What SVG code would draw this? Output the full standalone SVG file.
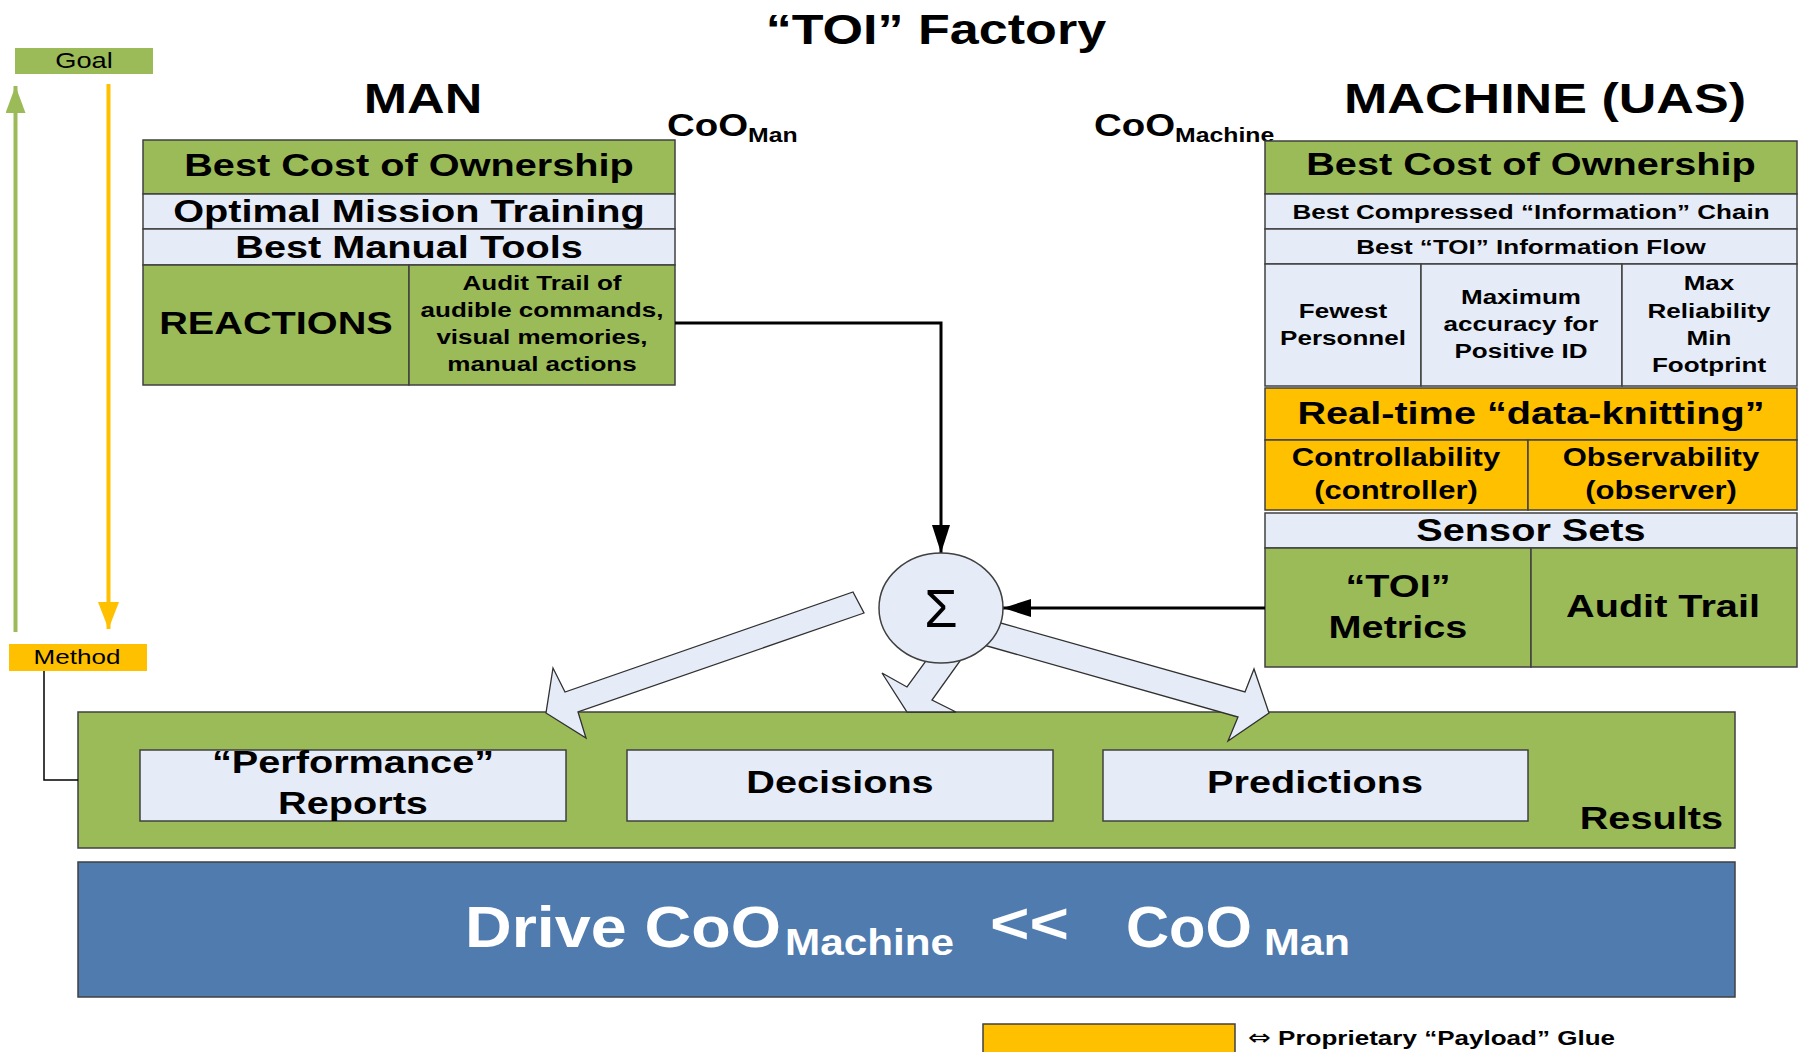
<svg xmlns="http://www.w3.org/2000/svg" width="1802" height="1052" viewBox="0 0 1802 1052">
  <defs>
    <style>
      .g { fill:#9BBB59; stroke:#404040; stroke-width:1.5; }
      .l { fill:#E6ECF7; stroke:#404040; stroke-width:1.5; }
      .o { fill:#FFC000; stroke:#404040; stroke-width:1.5; }
      .b { fill:#4F7BAF; stroke:#404040; stroke-width:1.5; }
      .blk { fill:#E6ECF7; stroke:#303030; stroke-width:1.3; }
      .wire { fill:none; stroke:#000; stroke-width:3; }
      text { font-family:"Liberation Sans", Arial, sans-serif; fill:#000; }
      .t { font-weight:bold; text-anchor:middle; transform-box:fill-box; transform-origin:center; transform:scaleX(1.24); }
      .tl { font-weight:bold; text-anchor:start; transform-box:fill-box; transform-origin:0% 50%; transform:scaleX(1.24); }
      .tr { font-weight:bold; text-anchor:end; transform-box:fill-box; transform-origin:100% 50%; transform:scaleX(1.24); }
      .n { text-anchor:middle; transform-box:fill-box; transform-origin:center; transform:scaleX(1.24); }
      .w { fill:#fff; font-weight:bold; }
    </style>
    <marker id="ah" markerUnits="userSpaceOnUse" markerWidth="28" markerHeight="18" refX="28" refY="9" orient="auto">
      <path d="M0,0 L28,9 L0,18 z" fill="#000"/>
    </marker>
    <marker id="ahGreen" markerUnits="userSpaceOnUse" markerWidth="27" markerHeight="20" refX="27" refY="10" orient="auto">
      <path d="M0,0 L27,10 L0,20 z" fill="#9BBB59"/>
    </marker>
    <marker id="ahOrange" markerUnits="userSpaceOnUse" markerWidth="27" markerHeight="21" refX="27" refY="10.5" orient="auto">
      <path d="M0,0 L27,10.5 L0,21 z" fill="#FFC000"/>
    </marker>
  </defs>

  <rect width="1802" height="1052" fill="#fff"/>

  <!-- headings -->
  <g id="headings">
    <text class="t" x="936" y="44" font-size="42">“TOI” Factory</text>
    <text class="t" x="423" y="113" font-size="42">MAN</text>
    <text class="t" x="1545" y="113" font-size="42">MACHINE (UAS)</text>
    <text class="tl" x="667" y="136" font-size="31">CoO<tspan font-size="20" dy="6">Man</tspan></text>
    <text class="tl" x="1094" y="136" font-size="31">CoO<tspan font-size="20" dy="6">Machine</tspan></text>
  </g>

  <!-- goal / method scale -->
  <g id="goal">
    <rect x="15" y="48" width="138" height="26" fill="#9BBB59"/>
    <text class="n" x="84" y="68" font-size="22">Goal</text>
  </g>
  <g id="method">
    <rect x="9" y="644" width="138" height="27" fill="#FFC000"/>
    <text class="n" x="77" y="664" font-size="21">Method</text>
  </g>

  <!-- MAN stack -->
  <g id="man">
    <rect class="g" x="143" y="140" width="532" height="54"/>
    <rect class="l" x="143" y="194" width="532" height="35"/>
    <rect class="l" x="143" y="229" width="532" height="36"/>
    <rect class="g" x="143" y="265" width="266" height="120"/>
    <rect class="g" x="409" y="265" width="266" height="120"/>
    <text class="t" x="409" y="176" font-size="32">Best Cost of Ownership</text>
    <text class="t" x="409" y="222" font-size="32">Optimal Mission Training</text>
    <text class="t" x="409" y="258" font-size="32">Best Manual Tools</text>
    <text class="t" x="276" y="334" font-size="32">REACTIONS</text>
    <text class="t" x="542" y="290" font-size="21">Audit Trail of</text>
    <text class="t" x="542" y="317" font-size="21">audible commands,</text>
    <text class="t" x="542" y="344" font-size="21">visual memories,</text>
    <text class="t" x="542" y="371" font-size="21">manual actions</text>
  </g>

  <!-- MACHINE stack -->
  <g id="machine">
    <rect class="g" x="1265" y="141" width="532" height="53"/>
    <rect class="l" x="1265" y="194" width="532" height="35"/>
    <rect class="l" x="1265" y="229" width="532" height="35"/>
    <rect class="l" x="1265" y="264" width="156" height="122"/>
    <rect class="l" x="1421" y="264" width="201" height="122"/>
    <rect class="l" x="1622" y="264" width="175" height="122"/>
    <text class="t" x="1531" y="175" font-size="32">Best Cost of Ownership</text>
    <text class="t" x="1531" y="219" font-size="21">Best Compressed “Information” Chain</text>
    <text class="t" x="1531" y="254" font-size="21">Best “TOI” Information Flow</text>
    <text class="t" x="1343" y="318" font-size="21">Fewest</text>
    <text class="t" x="1343" y="345" font-size="21">Personnel</text>
    <text class="t" x="1521" y="304" font-size="21">Maximum</text>
    <text class="t" x="1521" y="331" font-size="21">accuracy for</text>
    <text class="t" x="1521" y="358" font-size="21">Positive ID</text>
    <text class="t" x="1709" y="290" font-size="21">Max</text>
    <text class="t" x="1709" y="318" font-size="21">Reliability</text>
    <text class="t" x="1709" y="345" font-size="21">Min</text>
    <text class="t" x="1709" y="372" font-size="21">Footprint</text>
  </g>

  <g id="knitting">
    <rect class="o" x="1265" y="388" width="532" height="52"/>
    <rect class="o" x="1265" y="440" width="263" height="70"/>
    <rect class="o" x="1528" y="440" width="269" height="70"/>
    <text class="t" x="1531" y="424" font-size="32">Real-time “data-knitting”</text>
    <text class="t" x="1396" y="466" font-size="25">Controllability</text>
    <text class="t" x="1396" y="499" font-size="25">(controller)</text>
    <text class="t" x="1661" y="466" font-size="25">Observability</text>
    <text class="t" x="1661" y="499" font-size="25">(observer)</text>
  </g>

  <g id="sensors">
    <rect class="l" x="1265" y="513" width="532" height="35"/>
    <rect class="g" x="1265" y="548" width="266" height="119"/>
    <rect class="g" x="1531" y="548" width="266" height="119"/>
    <text class="t" x="1531" y="541" font-size="32">Sensor Sets</text>
    <text class="t" x="1398" y="597" font-size="32">“TOI”</text>
    <text class="t" x="1398" y="638" font-size="32">Metrics</text>
    <text class="t" x="1663" y="617" font-size="32">Audit Trail</text>
  </g>

  <!-- results band -->
  <g id="results">
    <rect class="g" x="78" y="712" width="1657" height="136"/>
    <rect class="l" x="140" y="750" width="426" height="71"/>
    <rect class="l" x="627" y="750" width="426" height="71"/>
    <rect class="l" x="1103" y="750" width="425" height="71"/>
    <text class="t" x="353" y="773" font-size="32">“Performance”</text>
    <text class="t" x="353" y="814" font-size="32">Reports</text>
    <text class="t" x="840" y="793" font-size="32">Decisions</text>
    <text class="t" x="1315" y="793" font-size="32">Predictions</text>
    <text class="tr" x="1723" y="829" font-size="32">Results</text>
  </g>

  <!-- objective banner -->
  <g id="banner">
    <rect class="b" x="78" y="862" width="1657" height="135"/>
    <text class="w" x="465" y="947" font-size="58" textLength="316" lengthAdjust="spacingAndGlyphs">Drive CoO</text>
    <text class="w" x="785" y="955" font-size="36" textLength="169" lengthAdjust="spacingAndGlyphs">Machine</text>
    <text class="w" x="990" y="943" font-size="58" textLength="79" lengthAdjust="spacingAndGlyphs">&lt;&lt;</text>
    <text class="w" x="1126" y="947" font-size="58" textLength="126" lengthAdjust="spacingAndGlyphs">CoO</text>
    <text class="w" x="1264" y="955" font-size="36" textLength="86" lengthAdjust="spacingAndGlyphs">Man</text>
  </g>

  <!-- legend -->
  <g id="legend">
    <rect class="o" x="983" y="1024" width="252" height="30"/>
    <text class="tl" x="1248" y="1045" font-size="21"><tspan font-family="'DejaVu Sans', sans-serif" font-weight="normal" font-size="22">⇔</tspan> Proprietary “Payload” Glue</text>
  </g>

  <!-- connectors -->
  <g id="connectors">
    <line x1="15.5" y1="632" x2="15.5" y2="86" stroke="#9BBB59" stroke-width="4" marker-end="url(#ahGreen)"/>
    <line x1="108.5" y1="84" x2="108.5" y2="629" stroke="#FFC000" stroke-width="4" marker-end="url(#ahOrange)"/>
    <polyline points="44,671 44,780 78,780" fill="none" stroke="#000" stroke-width="1.5"/>
    <polyline class="wire" points="675,323 941,323 941,553" marker-end="url(#ah)"/>
    <line class="wire" x1="1265" y1="608" x2="1003" y2="608" marker-end="url(#ah)"/>
    <polygon class="blk" points="936,647 960,661 932,700 956,712 907,712 882,673 907,687"/>
    <polygon class="blk" points="853,592 864,613 578,712 586,738 546,713 553,668 565,692"/>
    <polygon class="blk" points="990,620 1245,692 1254,669 1269,713 1228,741 1238,717 980,644"/>
  </g>

  <!-- summing junction -->
  <g id="sum">
    <ellipse class="l" cx="941" cy="608" rx="62" ry="55"/>
    <text x="941" y="627" font-family="'Liberation Serif', 'Times New Roman', serif" font-size="54" text-anchor="middle">Σ</text>
  </g>
</svg>
